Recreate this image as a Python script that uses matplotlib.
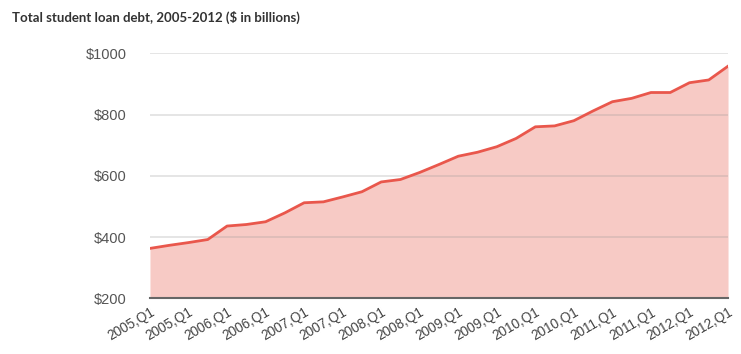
import numpy as np
import matplotlib
matplotlib.use("Agg")
import matplotlib.pyplot as plt

# quarterly debt, $ billions
debt = [363, 373, 382, 392, 436, 441, 450, 479, 512, 515, 531,
        548, 580, 588, 611, 637, 664, 677, 695, 722, 760, 763,
        780, 812, 842, 853, 872, 872, 904, 913, 958]

# labels shown on every other point, as printed in the original
tick_labels = ["2005,Q1", "2005,Q1", "2006,Q1", "2006,Q1", "2007,Q1", "2007,Q1",
               "2008,Q1", "2008,Q1", "2009,Q1", "2009,Q1", "2010,Q1", "2010,Q1",
               "2011,Q1", "2011,Q1", "2012,Q1", "2012,Q1"]
y_ticks = [200, 400, 600, 800, 1000]

plt.rcParams['font.family'] = ['Liberation Sans', 'DejaVu Sans']

fig = plt.figure(figsize=(7.41, 3.54), dpi=100)
ax = fig.add_axes([0.2024, 0.1573, 0.7801, 0.6921])

x = np.arange(len(debt))
ax.fill_between(x, debt, 200, color="#f7cac5", linewidth=0, zorder=1)
ax.plot(x, debt, color="#e9574c", linewidth=2, zorder=3)

ax.set_xlim(0, len(debt) - 1)
ax.set_ylim(200, 1000)
ax.set_yticks(y_ticks)
ax.set_yticklabels([f"${v}" for v in y_ticks], color="#555555", fontsize=10.5)
ax.set_xticks(x[::2])
ax.set_xticklabels(tick_labels, rotation=30, ha="right", rotation_mode="anchor",
                   color="#444444", fontsize=9.8)
ax.tick_params(axis="both", length=0)
ax.tick_params(axis="y", pad=17)
ax.tick_params(axis="x", pad=5)

ax.set_axisbelow(False)
ax.yaxis.grid(True, color="#999999", alpha=0.3, linewidth=1.2)
ax.xaxis.grid(False)
for s in ["top", "right", "left"]:
    ax.spines[s].set_visible(False)
ax.spines["bottom"].set_color("#666666")
ax.spines["bottom"].set_linewidth(1.5)
ax.spines["bottom"].set_zorder(4)

fig.text(0.016, 0.952, "Total student loan debt, 2005-2012 ($ in billions)",
         fontsize=9.5, fontweight="bold", color="#333333", va="center",
         family=["Lato", "DejaVu Sans"])

fig.savefig("out.png", dpi=100)
